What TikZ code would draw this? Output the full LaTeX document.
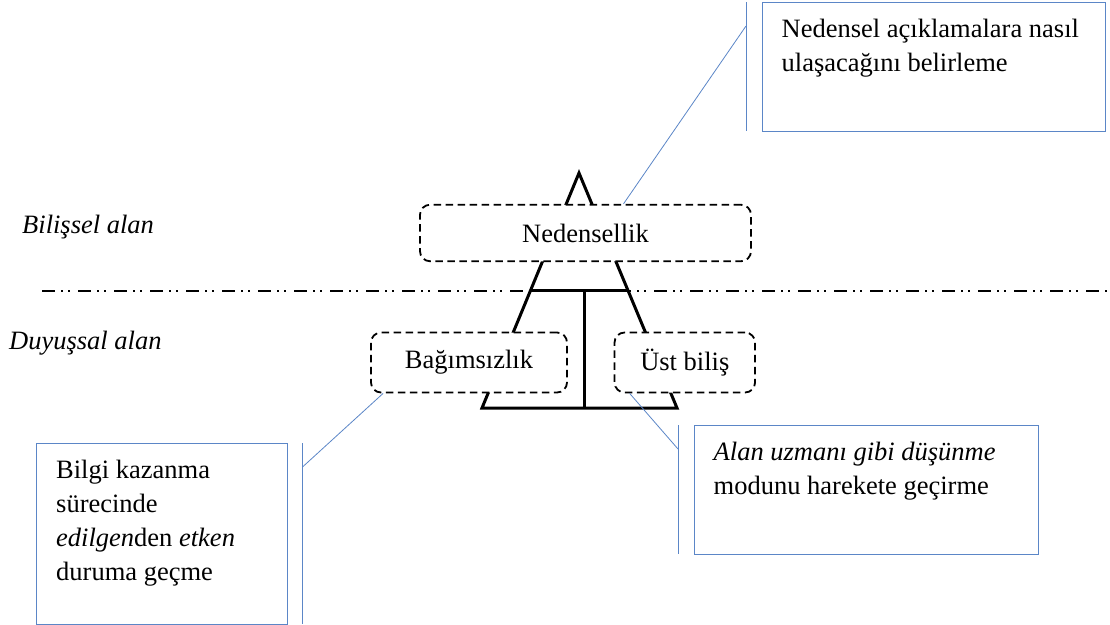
\documentclass[tikz,border=0pt]{standalone}
\usepackage{fontspec}
\setmainfont{Liberation Serif}
\usetikzlibrary{calc}
\definecolor{callblue}{RGB}{91,134,199}
\begin{document}
\begin{tikzpicture}[x=1pt,y=-1pt,
  every node/.style={font=\fontsize{26.5}{34}\selectfont},
  dashbox/.style={draw=black, line width=1.8pt, dash pattern=on 7.5pt off 4.5pt,
    rounded corners=10pt, fill=white, inner sep=0pt},
  callbox/.style={draw=callblue, line width=1pt, fill=white, inner sep=0pt, anchor=north west},
  accentbar/.style={draw=callblue, line width=1pt},
  leader/.style={draw=callblue, line width=0.8pt},
  calltext/.style={anchor=north west, inner sep=0pt, align=left},
  sidelabel/.style={anchor=base west, inner sep=0pt,
    font=\fontsize{26.5}{34}\selectfont\itshape},
  levelline/.style={line width=1.8pt,
    dash pattern=on 13pt off 6pt on 2pt off 5pt on 2pt off 8pt},
  frame/.style={line width=3pt, line join=miter}
]
\useasboundingbox (0,0) rectangle (1110,624);

% dash-dot-dot boundary between the two domains
\coordinate (lineL) at (42,291);
\coordinate (lineR) at (1110,291);
\draw[levelline] (lineL) -- (lineR);

% side labels
\node[sidelabel] (bilissel) at (22,233) {Bilişsel alan};
\node[sidelabel] (duyussal) at (9,349) {Duyuşsal alan};

% triangular frame with cross bar and stem
\coordinate (apex) at (579,173);
\coordinate (baseL) at (482,408);
\coordinate (baseR) at (677,408);
\coordinate (barL) at ($(apex)!0.502!(baseL)$);
\coordinate (barR) at ($(apex)!0.502!(baseR)$);
\coordinate (stemT) at (584.5,291);
\coordinate (stemB) at (584.5,408);
\draw[frame] (apex) -- (baseL) -- (baseR) -- cycle;
\draw[frame] (barL) -- (barR);
\draw[frame] (stemT) -- (stemB);

% concept boxes
\node[dashbox, minimum width=331pt, minimum height=56.5pt] (ned) at (585.5,233) {Nedensellik};
\node[dashbox, minimum width=196pt, minimum height=60pt] (bag) at (469,362.5) {Bağımsızlık};
\node[dashbox, minimum width=140.5pt, minimum height=60pt] (ust) at (684.8,362.5) {Üst biliş};

% callout: causality
\node[callbox, minimum width=343pt, minimum height=129pt] (topbox) at (762,2) {};
\node[calltext] (toptext) at ($(topbox.north west)+(19.5,17)$)
  {Nedensel açıklamalara nasıl\\ulaşacağını belirleme};
\coordinate (topbarT) at (746,2);
\coordinate (topbarB) at (746,131);
\coordinate (topbarJ) at (746,26);
\draw[accentbar] (topbarT) -- (topbarB);
\draw[leader] (topbarJ) -- ($(ned.north)+(38,0)$);

% callout: independence
\node[callbox, minimum width=251pt, minimum height=181pt] (leftbox) at (36,443) {};
\node[calltext] (lefttext) at ($(leftbox.north west)+(20,17)$)
  {Bilgi kazanma\\sürecinde\\\textit{edilgen}den \textit{etken}\\duruma geçme};
\coordinate (leftbarT) at (302.5,443);
\coordinate (leftbarB) at (302.5,624);
\coordinate (leftbarJ) at (302.5,467);
\draw[accentbar] (leftbarT) -- (leftbarB);
\draw[leader] (leftbarJ) -- ($(bag.south west)+(13,0)$);

% callout: metacognition
\node[callbox, minimum width=344pt, minimum height=129pt] (rightbox) at (694,425) {};
\node[calltext] (righttext) at ($(rightbox.north west)+(19.5,17)$)
  {\textit{Alan uzmanı gibi düşünme}\\modunu harekete geçirme};
\coordinate (rightbarT) at (678,425);
\coordinate (rightbarB) at (678,554);
\coordinate (rightbarJ) at (678,449);
\draw[accentbar] (rightbarT) -- (rightbarB);
\draw[leader] (rightbarJ) -- ($(ust.south west)+(16,0)$);
\end{tikzpicture}
\end{document}
